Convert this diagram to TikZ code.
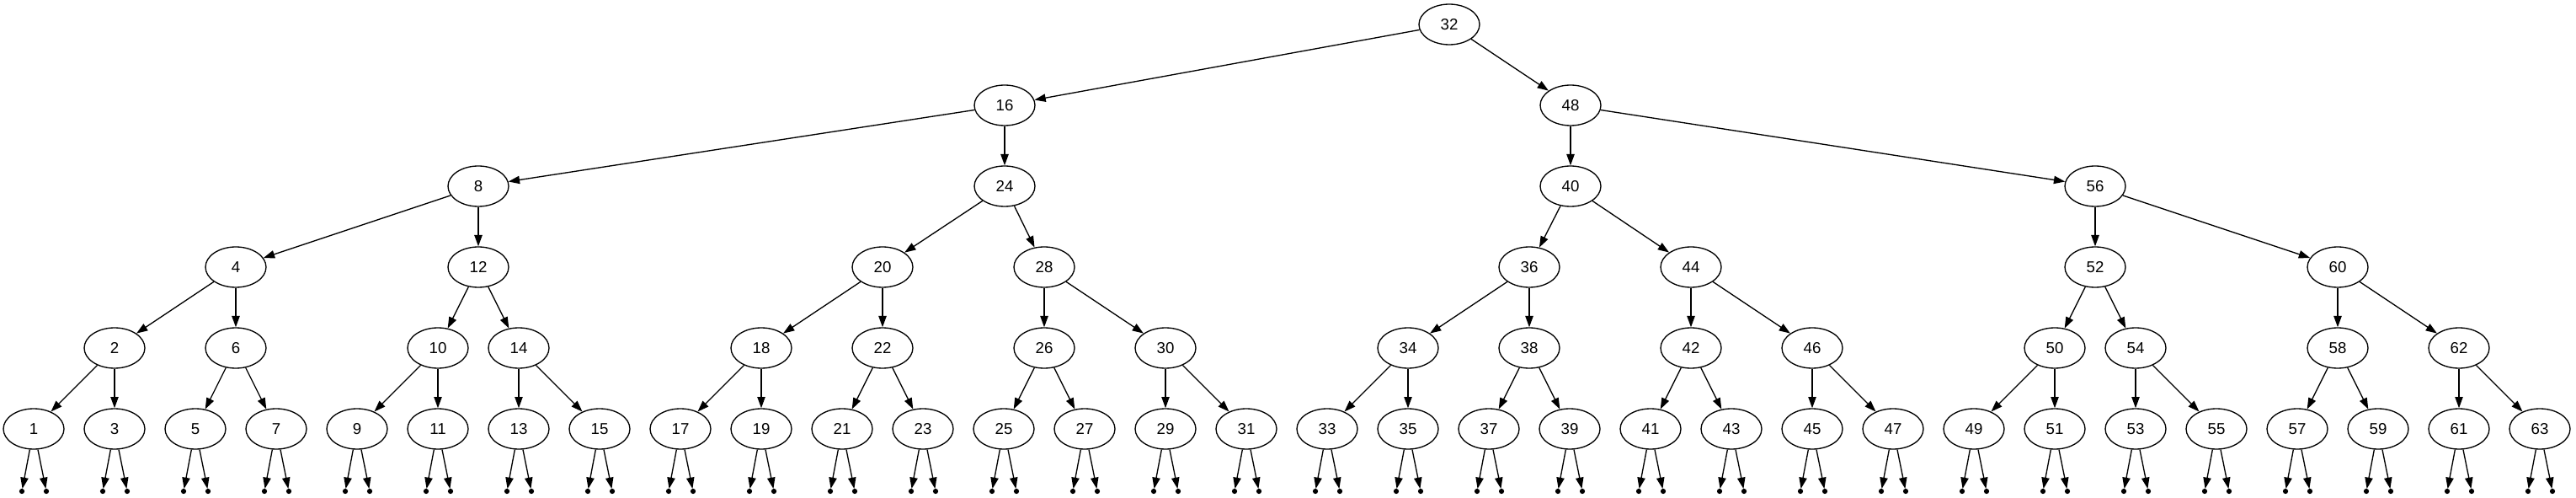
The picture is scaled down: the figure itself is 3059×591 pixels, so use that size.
\documentclass[tikz,border=0pt]{standalone}
\usepackage{fontspec}
\setmainfont{Liberation Sans}
\usetikzlibrary{shapes.geometric,arrows.meta}

\tikzset{every picture/.style={line width=1pt}}
\tikzset{
  key/.style={draw, ellipse, minimum width=54pt, minimum height=36pt, inner sep=0pt, font=\fontsize{14}{16}\selectfont},
  nil/.style={circle, fill, draw, minimum size=3.6pt, inner sep=0pt},
  link/.style={-{Triangle[length=10pt,width=7pt]}}
}

\begin{document}
\begin{tikzpicture}[x=0.75pt,y=0.75pt,yscale=-1,xscale=1]
\useasboundingbox (0,0) rectangle (3059,591);

% Root
\node [key] (n32) at (1721,29) {32};
% Level 1
\node [key] (n16) at (1193,125) {16};
\node [key] (n48) at (1865,125) {48};
% Level 2
\node [key] (n8) at (568,221) {8};
\node [key] (n24) at (1193,221) {24};
\node [key] (n40) at (1865,221) {40};
\node [key] (n56) at (2488,221) {56};
% Level 3
\node [key] (n4) at (280,317) {4};
\node [key] (n12) at (568,317) {12};
\node [key] (n20) at (1048,317) {20};
\node [key] (n28) at (1240,317) {28};
\node [key] (n36) at (1816,317) {36};
\node [key] (n44) at (2008,317) {44};
\node [key] (n52) at (2488,317) {52};
\node [key] (n60) at (2776,317) {60};
% Level 4
\node [key] (n2) at (136,413) {2};
\node [key] (n6) at (280,413) {6};
\node [key] (n10) at (520,413) {10};
\node [key] (n14) at (616,413) {14};
\node [key] (n18) at (904,413) {18};
\node [key] (n22) at (1048,413) {22};
\node [key] (n26) at (1240,413) {26};
\node [key] (n30) at (1384,413) {30};
\node [key] (n34) at (1672,413) {34};
\node [key] (n38) at (1816,413) {38};
\node [key] (n42) at (2008,413) {42};
\node [key] (n46) at (2152,413) {46};
\node [key] (n50) at (2440,413) {50};
\node [key] (n54) at (2536,413) {54};
\node [key] (n58) at (2776,413) {58};
\node [key] (n62) at (2920,413) {62};
% Level 5
\node [key] (n1) at (40,509) {1};
\node [key] (n3) at (136,509) {3};
\node [key] (n5) at (232,509) {5};
\node [key] (n7) at (328,509) {7};
\node [key] (n9) at (424,509) {9};
\node [key] (n11) at (520,509) {11};
\node [key] (n13) at (616,509) {13};
\node [key] (n15) at (712,509) {15};
\node [key] (n17) at (808,509) {17};
\node [key] (n19) at (904,509) {19};
\node [key] (n21) at (1000,509) {21};
\node [key] (n23) at (1096,509) {23};
\node [key] (n25) at (1192,509) {25};
\node [key] (n27) at (1288,509) {27};
\node [key] (n29) at (1384,509) {29};
\node [key] (n31) at (1480,509) {31};
\node [key] (n33) at (1576,509) {33};
\node [key] (n35) at (1672,509) {35};
\node [key] (n37) at (1768,509) {37};
\node [key] (n39) at (1864,509) {39};
\node [key] (n41) at (1960,509) {41};
\node [key] (n43) at (2056,509) {43};
\node [key] (n45) at (2152,509) {45};
\node [key] (n47) at (2248,509) {47};
\node [key] (n49) at (2344,509) {49};
\node [key] (n51) at (2440,509) {51};
\node [key] (n53) at (2536,509) {53};
\node [key] (n55) at (2632,509) {55};
\node [key] (n57) at (2728,509) {57};
\node [key] (n59) at (2824,509) {59};
\node [key] (n61) at (2920,509) {61};
\node [key] (n63) at (3016,509) {63};

% Empty children
\node [nil] (z1l) at (26,583) {};   \node [nil] (z1r) at (55,583) {};
\node [nil] (z3l) at (122,583) {};  \node [nil] (z3r) at (151,583) {};
\node [nil] (z5l) at (218,583) {};  \node [nil] (z5r) at (247,583) {};
\node [nil] (z7l) at (314,583) {};  \node [nil] (z7r) at (343,583) {};
\node [nil] (z9l) at (410,583) {};  \node [nil] (z9r) at (439,583) {};
\node [nil] (z11l) at (506,583) {}; \node [nil] (z11r) at (535,583) {};
\node [nil] (z13l) at (602,583) {}; \node [nil] (z13r) at (631,583) {};
\node [nil] (z15l) at (698,583) {}; \node [nil] (z15r) at (727,583) {};
\node [nil] (z17l) at (794,583) {}; \node [nil] (z17r) at (823,583) {};
\node [nil] (z19l) at (890,583) {}; \node [nil] (z19r) at (919,583) {};
\node [nil] (z21l) at (986,583) {}; \node [nil] (z21r) at (1015,583) {};
\node [nil] (z23l) at (1082,583) {}; \node [nil] (z23r) at (1111,583) {};
\node [nil] (z25l) at (1178,583) {}; \node [nil] (z25r) at (1207,583) {};
\node [nil] (z27l) at (1274,583) {}; \node [nil] (z27r) at (1303,583) {};
\node [nil] (z29l) at (1370,583) {}; \node [nil] (z29r) at (1399,583) {};
\node [nil] (z31l) at (1466,583) {}; \node [nil] (z31r) at (1495,583) {};
\node [nil] (z33l) at (1562,583) {}; \node [nil] (z33r) at (1591,583) {};
\node [nil] (z35l) at (1658,583) {}; \node [nil] (z35r) at (1687,583) {};
\node [nil] (z37l) at (1754,583) {}; \node [nil] (z37r) at (1783,583) {};
\node [nil] (z39l) at (1850,583) {}; \node [nil] (z39r) at (1879,583) {};
\node [nil] (z41l) at (1946,583) {}; \node [nil] (z41r) at (1975,583) {};
\node [nil] (z43l) at (2042,583) {}; \node [nil] (z43r) at (2071,583) {};
\node [nil] (z45l) at (2138,583) {}; \node [nil] (z45r) at (2167,583) {};
\node [nil] (z47l) at (2234,583) {}; \node [nil] (z47r) at (2263,583) {};
\node [nil] (z49l) at (2330,583) {}; \node [nil] (z49r) at (2359,583) {};
\node [nil] (z51l) at (2426,583) {}; \node [nil] (z51r) at (2455,583) {};
\node [nil] (z53l) at (2522,583) {}; \node [nil] (z53r) at (2551,583) {};
\node [nil] (z55l) at (2618,583) {}; \node [nil] (z55r) at (2647,583) {};
\node [nil] (z57l) at (2714,583) {}; \node [nil] (z57r) at (2743,583) {};
\node [nil] (z59l) at (2810,583) {}; \node [nil] (z59r) at (2839,583) {};
\node [nil] (z61l) at (2906,583) {}; \node [nil] (z61r) at (2935,583) {};
\node [nil] (z63l) at (3002,583) {}; \node [nil] (z63r) at (3031,583) {};

% Edges between keys
\draw [link] (n32) -- (n16);  \draw [link] (n32) -- (n48);
\draw [link] (n16) -- (n8);   \draw [link] (n16) -- (n24);
\draw [link] (n48) -- (n40);  \draw [link] (n48) -- (n56);
\draw [link] (n8) -- (n4);    \draw [link] (n8) -- (n12);
\draw [link] (n24) -- (n20);  \draw [link] (n24) -- (n28);
\draw [link] (n40) -- (n36);  \draw [link] (n40) -- (n44);
\draw [link] (n56) -- (n52);  \draw [link] (n56) -- (n60);
\draw [link] (n4) -- (n2);    \draw [link] (n4) -- (n6);
\draw [link] (n12) -- (n10);  \draw [link] (n12) -- (n14);
\draw [link] (n20) -- (n18);  \draw [link] (n20) -- (n22);
\draw [link] (n28) -- (n26);  \draw [link] (n28) -- (n30);
\draw [link] (n36) -- (n34);  \draw [link] (n36) -- (n38);
\draw [link] (n44) -- (n42);  \draw [link] (n44) -- (n46);
\draw [link] (n52) -- (n50);  \draw [link] (n52) -- (n54);
\draw [link] (n60) -- (n58);  \draw [link] (n60) -- (n62);
\draw [link] (n2) -- (n1);    \draw [link] (n2) -- (n3);
\draw [link] (n6) -- (n5);    \draw [link] (n6) -- (n7);
\draw [link] (n10) -- (n9);   \draw [link] (n10) -- (n11);
\draw [link] (n14) -- (n13);  \draw [link] (n14) -- (n15);
\draw [link] (n18) -- (n17);  \draw [link] (n18) -- (n19);
\draw [link] (n22) -- (n21);  \draw [link] (n22) -- (n23);
\draw [link] (n26) -- (n25);  \draw [link] (n26) -- (n27);
\draw [link] (n30) -- (n29);  \draw [link] (n30) -- (n31);
\draw [link] (n34) -- (n33);  \draw [link] (n34) -- (n35);
\draw [link] (n38) -- (n37);  \draw [link] (n38) -- (n39);
\draw [link] (n42) -- (n41);  \draw [link] (n42) -- (n43);
\draw [link] (n46) -- (n45);  \draw [link] (n46) -- (n47);
\draw [link] (n50) -- (n49);  \draw [link] (n50) -- (n51);
\draw [link] (n54) -- (n53);  \draw [link] (n54) -- (n55);
\draw [link] (n58) -- (n57);  \draw [link] (n58) -- (n59);
\draw [link] (n62) -- (n61);  \draw [link] (n62) -- (n63);

% Edges to empty children
\draw [link] (n1) -- (z1l);   \draw [link] (n1) -- (z1r);
\draw [link] (n3) -- (z3l);   \draw [link] (n3) -- (z3r);
\draw [link] (n5) -- (z5l);   \draw [link] (n5) -- (z5r);
\draw [link] (n7) -- (z7l);   \draw [link] (n7) -- (z7r);
\draw [link] (n9) -- (z9l);   \draw [link] (n9) -- (z9r);
\draw [link] (n11) -- (z11l); \draw [link] (n11) -- (z11r);
\draw [link] (n13) -- (z13l); \draw [link] (n13) -- (z13r);
\draw [link] (n15) -- (z15l); \draw [link] (n15) -- (z15r);
\draw [link] (n17) -- (z17l); \draw [link] (n17) -- (z17r);
\draw [link] (n19) -- (z19l); \draw [link] (n19) -- (z19r);
\draw [link] (n21) -- (z21l); \draw [link] (n21) -- (z21r);
\draw [link] (n23) -- (z23l); \draw [link] (n23) -- (z23r);
\draw [link] (n25) -- (z25l); \draw [link] (n25) -- (z25r);
\draw [link] (n27) -- (z27l); \draw [link] (n27) -- (z27r);
\draw [link] (n29) -- (z29l); \draw [link] (n29) -- (z29r);
\draw [link] (n31) -- (z31l); \draw [link] (n31) -- (z31r);
\draw [link] (n33) -- (z33l); \draw [link] (n33) -- (z33r);
\draw [link] (n35) -- (z35l); \draw [link] (n35) -- (z35r);
\draw [link] (n37) -- (z37l); \draw [link] (n37) -- (z37r);
\draw [link] (n39) -- (z39l); \draw [link] (n39) -- (z39r);
\draw [link] (n41) -- (z41l); \draw [link] (n41) -- (z41r);
\draw [link] (n43) -- (z43l); \draw [link] (n43) -- (z43r);
\draw [link] (n45) -- (z45l); \draw [link] (n45) -- (z45r);
\draw [link] (n47) -- (z47l); \draw [link] (n47) -- (z47r);
\draw [link] (n49) -- (z49l); \draw [link] (n49) -- (z49r);
\draw [link] (n51) -- (z51l); \draw [link] (n51) -- (z51r);
\draw [link] (n53) -- (z53l); \draw [link] (n53) -- (z53r);
\draw [link] (n55) -- (z55l); \draw [link] (n55) -- (z55r);
\draw [link] (n57) -- (z57l); \draw [link] (n57) -- (z57r);
\draw [link] (n59) -- (z59l); \draw [link] (n59) -- (z59r);
\draw [link] (n61) -- (z61l); \draw [link] (n61) -- (z61r);
\draw [link] (n63) -- (z63l); \draw [link] (n63) -- (z63r);

\end{tikzpicture}
\end{document}
